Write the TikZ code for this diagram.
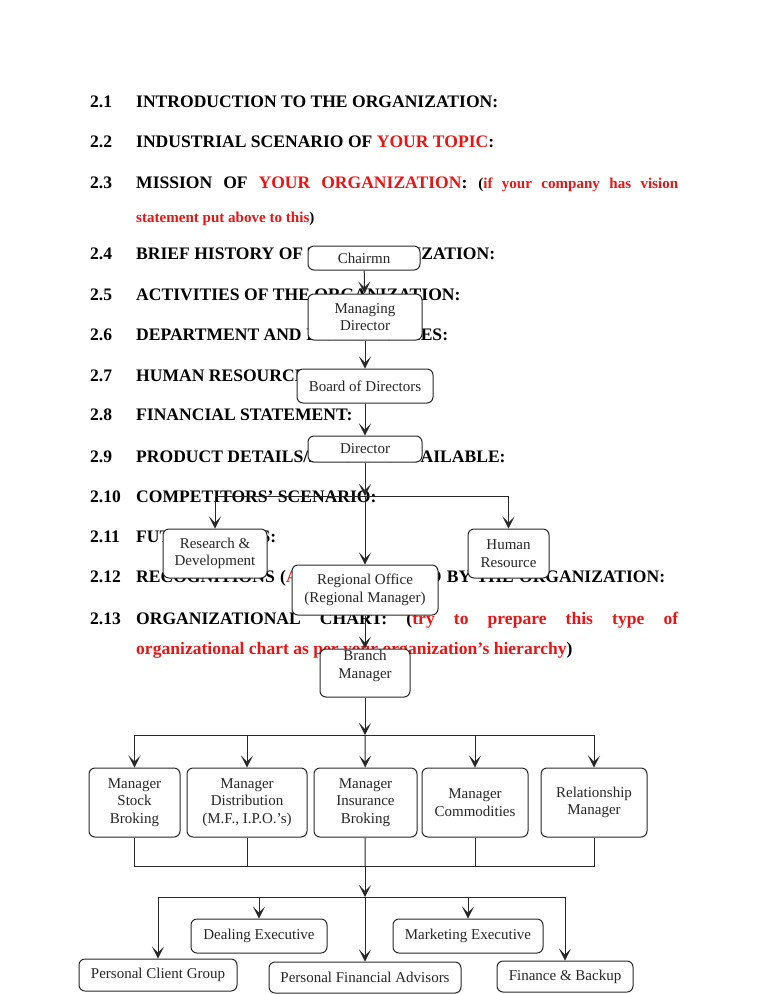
\documentclass[tikz,border=0pt]{standalone}
\usepackage{fontspec}
\setmainfont{Liberation Serif}
\usetikzlibrary{arrows.meta}
\definecolor{redt}{RGB}{235,20,20}
\definecolor{ln}{RGB}{40,40,40}
\newcommand\hdf{\fontsize{17.57}{20}\selectfont\bfseries}
\newcommand\smf{\fontsize{15.06}{18}\selectfont\bfseries}
\newcommand\bxf{\fontsize{15}{17.5}\selectfont}
\tikzset{
  hd/.style={anchor=base west, inner sep=0pt, font=\hdf, text=black},
  sm/.style={anchor=base west, inner sep=0pt, font=\smf, text=black},
  box/.style={draw=ln, fill=white, rounded corners=6pt, line width=1pt,
    align=center, font=\bxf, inner sep=0pt, text=black!85},
  arr/.style={draw=ln, line width=1pt, -{Stealth[length=12pt,width=12pt,inset=6pt]}},
  conn/.style={draw=ln, line width=1pt}
}
\begin{document}
\begin{tikzpicture}[x=1pt,y=-1pt]
\useasboundingbox (0,0) rectangle (768,994);
\fill[white] (0,0) rectangle (768,994);

% ---------- heading text ----------
\node[hd] (n1) at (90,107) {2.1};
\node[hd] (t1) at (136,107) {INTRODUCTION TO THE ORGANIZATION:};
\node[hd] (n2) at (90,147) {2.2};
\node[hd] (t2) at (136,147) {INDUSTRIAL SCENARIO OF \textcolor{redt}{YOUR TOPIC}:};
\node[hd] (n3) at (90,188) {2.3};
\node[hd] (t3) at (136,188) {\makebox[542pt][s]{MISSION OF \textcolor{redt}{YOUR ORGANIZATION}: {\smf(\textcolor{redt}{if your company has vision}}}};
\node[sm] (t3b) at (136,222) {\textcolor{redt}{statement put above to this})};
\node[hd] (n4) at (90,259) {2.4};
\node[hd] (t4) at (136,259) {BRIEF HISTORY OF THE ORGANIZATION:};
\node[hd] (n5) at (90,300) {2.5};
\node[hd] (t5) at (136,300) {ACTIVITIES OF THE ORGANIZATION:};
\node[hd] (n6) at (90,340) {2.6};
\node[hd] (t6) at (136,340) {DEPARTMENT AND ITS ACTIVITIES:};
\node[hd] (n7) at (90,381) {2.7};
\node[hd] (t7) at (136,381) {HUMAN RESOURCE POLICIES:};
\node[hd] (n8) at (90,420) {2.8};
\node[hd] (t8) at (136,420) {FINANCIAL STATEMENT:};
\node[hd] (n9) at (90,462) {2.9};
\node[hd] (t9) at (136,462) {PRODUCT DETAILS/SERVICES AVAILABLE:};
\node[hd] (n10) at (90,502) {2.10};
\node[hd] (t10) at (136,502) {COMPETITORS’ SCENARIO:};
\node[hd] (n11) at (90,542) {2.11};
\node[hd] (t11) at (136,542) {FUTURE PLANS:};
\node[hd] (n12) at (90,582) {2.12};
\node[hd] (t12) at (136,582) {\makebox[529pt][s]{RECOGNITIONS (\textcolor{redt}{AWARDS}) GAINED BY THE ORGANIZATION:}};
\node[hd] (n13) at (90,624) {2.13};
\node[hd] (t13) at (136,624) {\makebox[542pt][s]{ORGANIZATIONAL CHART: (\textcolor{redt}{try to prepare this type of}}};
\node[hd] (t13b) at (136,654) {\textcolor{redt}{organizational chart as per your organization’s hierarchy})};

% ---------- chart boxes ----------
\node[box, minimum width=112, minimum height=24] (chair) at (364,258) {Chairmn};
\node[box, minimum width=114, minimum height=46] (md) at (365,317) {Managing\\Director};
\node[box, minimum width=136, minimum height=34] (bod) at (365,386) {Board of Directors};
\node[box, minimum width=114, minimum height=26] (dir) at (365,449) {Director};
\node[box, minimum width=104, minimum height=49] (rd) at (215,553.5) {Research \&\\Development};
\node[box, minimum width=81, minimum height=49] (hr) at (508.5,553.5) {Human\\Resource};
\node[box, minimum width=146, minimum height=50] (ro) at (365,590) {Regional Office\\(Regional Manager)};
\node[box, minimum width=90, minimum height=48] (bm) at (365,673) {Branch\\Manager\\\mbox{}};

\node[box, minimum width=91, minimum height=69] (m1) at (134.5,802.5) {Manager\\Stock\\Broking};
\node[box, minimum width=120, minimum height=69] (m2) at (247,802.5) {Manager\\Distribution\\(M.F., I.P.O.’s)};
\node[box, minimum width=103, minimum height=69] (m3) at (365.5,802.5) {Manager\\Insurance\\Broking};
\node[box, minimum width=106, minimum height=69] (m4) at (475,802.5) {Manager\\Commodities};
\node[box, minimum width=106, minimum height=69] (m5) at (594,802.5) {Relationship\\Manager};

\node[box, minimum width=136, minimum height=34] (de) at (259,936) {Dealing Executive};
\node[box, minimum width=150, minimum height=34] (me) at (468,936) {Marketing Executive};
\node[box, minimum width=158, minimum height=32] (pcg) at (158,975) {Personal Client Group};
\node[box, minimum width=192, minimum height=31] (pfa) at (365,977.5) {Personal Financial Advisors};
\node[box, minimum width=136, minimum height=31] (fb) at (565,976.5) {Finance \& Backup};

% ---------- junctions ----------
\coordinate (j1) at (365,496);
\coordinate (j2) at (365,735);
\coordinate (j3) at (365,866);
\coordinate (j4) at (365,897);
\coordinate (b1) at (134.5,866);
\coordinate (b5) at (594,866);

% ---------- connectors ----------
\draw[arr] (chair) -- (md);
\draw[arr] (md) -- (bod);
\draw[arr] (bod) -- (dir);
\draw[arr] (dir) -- (j1);
\draw[arr] (j1) -- (ro);
\draw[arr] (j1) -| (rd);
\draw[arr] (j1) -| (hr);
\draw[arr] (ro) -- (bm);
\draw[arr] (bm) -- (j2);
\draw[arr] (j2) -| (m1);
\draw[arr] (j2) -| (m2);
\draw[arr] (j2) -- (m3);
\draw[arr] (j2) -| (m4);
\draw[arr] (j2) -| (m5);
\draw[conn] (m1) -- (b1) -- (b5) -- (m5);
\draw[conn] (m2) -- (m2 |- j3);
\draw[conn] (m3) -- (j3);
\draw[conn] (m4) -- (m4 |- j3);
\draw[arr] (j3) -- (j4);
\draw[arr] (j4) -| (pcg);
\draw[arr] (j4) -| (de);
\draw[arr] (j4) -- (pfa);
\draw[arr] (j4) -| (me);
\draw[arr] (j4) -| (fb);
\end{tikzpicture}
\end{document}
